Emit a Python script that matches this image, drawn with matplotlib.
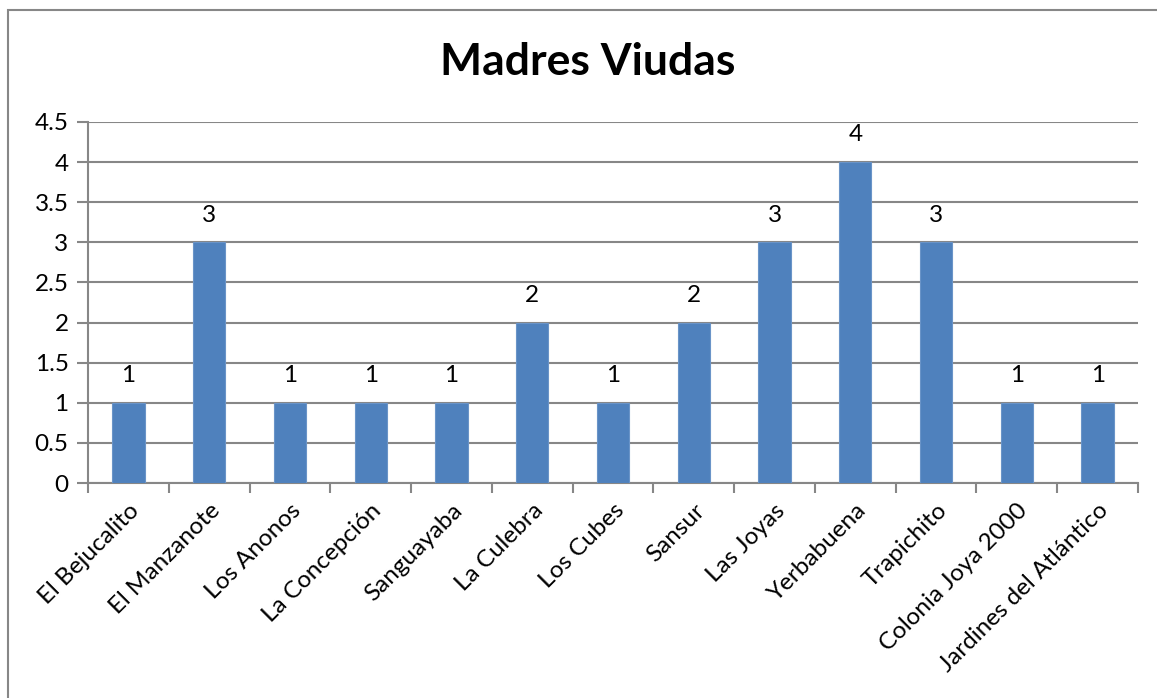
import numpy as np
import matplotlib.pyplot as plt
from matplotlib.patches import Rectangle

plt.rcParams['font.family'] = ['Lato', 'DejaVu Sans']

barrios = ['El Bejucalito', 'El Manzanote', 'Los Anonos', 'La Concepción',
           'Sanguayaba', 'La Culebra', 'Los Cubes', 'Sansur', 'Las Joyas',
           'Yerbabuena', 'Trapichito', 'Colonia Joya 2000',
           'Jardines del Atlántico']
madres = [1, 3, 1, 1, 1, 2, 1, 2, 3, 4, 3, 1, 1]
yticks = np.arange(0, 4.51, 0.5)

fig = plt.figure(figsize=(11.57, 6.98), dpi=100)
# chart frame (cut off at right and bottom)
fig.patches.append(Rectangle((8/1157, -0.1), 1.2, 1 - 10/698 + 0.1,
                             transform=fig.transFigure, fill=False,
                             edgecolor='#878787', linewidth=1.5))

ax = fig.add_axes([88/1157, 1 - 483/698, 1050/1157, 361/698])
x = np.arange(len(barrios))
bars = ax.bar(x, madres, width=0.4, color='#4F81BD', edgecolor='#6A94C8',
              linewidth=0.8, zorder=3)

for xi, v in zip(x, madres):
    ax.annotate(str(v), (xi, v), xytext=(0, 12), textcoords='offset points',
                ha='center', va='bottom', fontsize=17.5)

ax.set_xlim(-0.5, len(barrios) - 0.5)
ax.set_ylim(0, 4.5)
ax.set_yticks(yticks)
ax.set_yticklabels(['0' if t == 0 else ('%g' % t) for t in yticks], fontsize=17.5)
ax.yaxis.grid(True, color='#878787', linewidth=1.5, zorder=0)
ax.set_axisbelow(True)

ax.set_xticks(x)
ax.set_xticklabels(barrios, rotation=45, ha='right', rotation_mode='anchor',
                   fontsize=17.5)
ax.set_xticks(np.arange(-0.5, len(barrios), 1), minor=True)
ax.tick_params(axis='x', which='major', length=0, pad=12)
ax.tick_params(axis='x', which='minor', length=7, width=1.5, color='#878787',
               direction='out')
ax.tick_params(axis='y', length=8, width=1.5, color='#878787', pad=6)

for s in ['top', 'right']:
    ax.spines[s].set_visible(False)
for s in ['left', 'bottom']:
    ax.spines[s].set_color('#878787')
    ax.spines[s].set_linewidth(1.5)

fig.text(588/1157, 1 - 62/698, 'Madres Viudas', ha='center', va='center',
         fontsize=32, fontweight='bold')

fig.savefig('out.png', dpi=100)
